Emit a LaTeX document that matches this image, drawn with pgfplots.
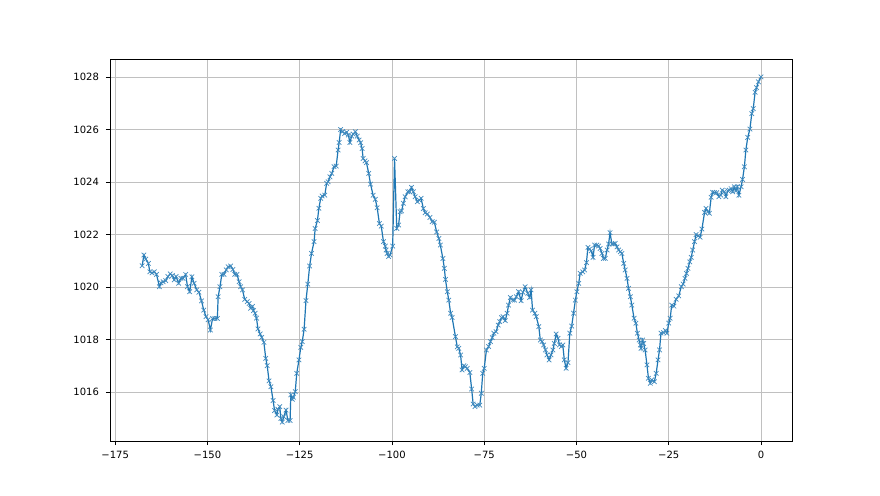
\documentclass[border=0pt]{standalone}
\usepackage{fontspec}
\setmainfont{DejaVu Sans}
\usepackage{pgfplots}
\pgfplotsset{compat=1.18}
\definecolor{mplblue}{HTML}{1F77B4}
\definecolor{mplgrid}{HTML}{B0B0B0}
\begin{document}
\begin{tikzpicture}[x=1pt,y=1pt]
\path[fill=white] (0,0) rectangle (440,247.5);
\begin{axis}[
  at={(55pt,27pt)}, anchor=south west,
  scale only axis, width=341pt, height=191pt,
  xmin=-176.4, xmax=8.4, ymin=1014.13, ymax=1028.69,
  xtick={-175,-150,-125,-100,-75,-50,-25,0},
  xticklabels={−175,−150,−125,−100,−75,−50,−25,0},
  ytick={1016,1018,1020,1022,1024,1026,1028},
  yticklabel style={/pgf/number format/1000 sep={}},
  /pgf/number format/assume math mode=true,
  tick label style={font=\fontsize{5}{6}\selectfont, text=black},
  tick align=outside, major tick length=2pt,
  tick style={black, line width=0.4pt},
  xtick pos=bottom, ytick pos=left,
  grid=major, major grid style={mplgrid!80!white, line width=0.4pt},
  axis line style={black, line width=0.4pt},
  xticklabel style={yshift=0.5pt},
]
\addplot[color=mplblue, line width=0.6pt, mark=x, mark size=1.6pt, mark options={line width=0.35pt, draw=mplblue!85!white}] coordinates {
(-167.7,1020.81) (-167.2,1021.22) (-166.7,1021.06) (-166.0,1020.90) (-165.6,1020.58) (-165.0,1020.54) (-164.4,1020.58) (-163.8,1020.48) (-163.0,1020.01) (-162.6,1020.16)
(-162.0,1020.20) (-161.3,1020.24) (-160.7,1020.40) (-160.1,1020.50) (-159.5,1020.44) (-159.0,1020.27) (-158.5,1020.40) (-157.8,1020.14) (-157.2,1020.33) (-156.6,1020.33)
(-155.9,1020.48) (-155.4,1020.01) (-154.8,1019.82) (-154.2,1020.39) (-153.6,1020.14) (-152.9,1019.89) (-152.3,1019.80) (-151.6,1019.47) (-151.0,1019.12) (-150.4,1018.87)
(-149.8,1018.75) (-149.2,1018.36) (-148.6,1018.80) (-148.0,1018.80) (-147.3,1018.80) (-147.1,1019.63) (-146.6,1020.01) (-146.1,1020.48) (-145.5,1020.48) (-144.9,1020.65)
(-144.4,1020.77) (-143.7,1020.80) (-143.1,1020.67) (-142.6,1020.48) (-142.0,1020.48) (-141.4,1020.20) (-141.0,1020.01) (-140.5,1019.89) (-139.9,1019.53) (-139.2,1019.44)
(-138.7,1019.37) (-138.3,1019.19) (-137.8,1019.26) (-137.5,1019.10) (-137.1,1019.00) (-136.7,1018.81) (-136.3,1018.40) (-135.7,1018.21) (-135.3,1018.08) (-134.7,1017.89)
(-134.2,1017.28) (-133.8,1017.00) (-133.3,1016.42) (-132.8,1016.20) (-132.2,1015.67) (-131.8,1015.29) (-131.2,1015.12) (-130.9,1015.34) (-130.4,1015.44) (-130.1,1014.99)
(-129.7,1014.85) (-129.3,1015.06) (-128.7,1015.31) (-128.2,1014.91) (-127.6,1014.91) (-127.4,1015.89) (-127.0,1015.72) (-126.7,1015.80) (-126.2,1016.01) (-125.8,1016.71)
(-125.2,1017.22) (-124.7,1017.70) (-124.3,1017.92) (-123.8,1018.39) (-123.3,1019.48) (-122.8,1020.11) (-122.3,1020.80) (-121.8,1021.28) (-121.1,1021.73) (-120.8,1022.23)
(-120.2,1022.53) (-119.8,1023.00) (-119.3,1023.38) (-118.9,1023.47) (-118.2,1023.50) (-117.7,1023.95) (-117.3,1024.01) (-116.8,1024.20) (-116.3,1024.33) (-115.7,1024.59)
(-115.1,1024.61) (-114.6,1025.22) (-114.3,1025.51) (-113.9,1026.00) (-113.4,1025.92) (-112.8,1025.85) (-112.3,1025.90) (-111.8,1025.79) (-111.4,1025.51) (-110.9,1025.75)
(-110.5,1025.83) (-109.9,1025.92) (-109.4,1025.75) (-108.9,1025.60) (-108.5,1025.50) (-108.1,1025.28) (-107.8,1024.90) (-107.3,1024.81) (-106.9,1024.74) (-106.3,1024.33)
(-105.8,1023.92) (-105.1,1023.50) (-104.5,1023.34) (-104.0,1023.02) (-103.4,1022.42) (-102.9,1022.32) (-102.3,1021.73) (-101.8,1021.56) (-101.6,1021.41) (-101.3,1021.28)
(-100.9,1021.16) (-100.5,1021.22) (-99.8,1021.56) (-99.3,1024.90) (-98.7,1022.23) (-98.2,1022.36) (-97.8,1022.87) (-97.4,1022.90) (-96.9,1023.19) (-96.4,1023.44)
(-95.7,1023.63) (-95.2,1023.63) (-94.7,1023.80) (-94.2,1023.63) (-93.7,1023.44) (-93.1,1023.25) (-92.6,1023.31) (-92.1,1023.38) (-91.5,1022.99) (-91.0,1022.83)
(-90.4,1022.78) (-89.7,1022.65) (-89.1,1022.49) (-88.5,1022.47) (-87.9,1022.10) (-87.3,1021.85) (-86.9,1021.60) (-86.2,1021.09) (-85.8,1020.71) (-85.5,1020.29)
(-85.0,1019.82) (-84.6,1019.50) (-84.1,1019.00) (-83.7,1018.84) (-82.8,1018.11) (-82.3,1017.72) (-81.9,1017.66) (-81.4,1017.41) (-81.0,1016.84) (-80.5,1017.00)
(-80.1,1016.96) (-79.6,1016.90) (-78.9,1016.74) (-78.4,1016.11) (-78.0,1015.54) (-77.5,1015.44) (-76.9,1015.50) (-76.2,1015.50) (-75.8,1015.95) (-75.4,1016.71)
(-75.0,1016.90) (-74.4,1017.60) (-73.8,1017.73) (-73.3,1017.92) (-72.8,1018.07) (-72.4,1018.24) (-71.8,1018.30) (-71.2,1018.55) (-70.8,1018.68) (-70.3,1018.83)
(-69.9,1018.87) (-69.3,1018.72) (-68.8,1019.00) (-68.4,1019.31) (-67.9,1019.60) (-67.3,1019.50) (-66.8,1019.50) (-66.3,1019.63) (-65.7,1019.82) (-65.0,1019.48)
(-64.5,1019.80) (-63.9,1020.01) (-63.2,1019.76) (-62.7,1019.60) (-62.3,1019.89) (-61.9,1019.12) (-61.3,1019.00) (-60.9,1018.87) (-60.2,1018.49) (-59.8,1017.98)
(-59.3,1017.92) (-58.9,1017.79) (-58.4,1017.60) (-58.0,1017.41) (-57.4,1017.22) (-56.9,1017.41) (-56.4,1017.60) (-56.0,1017.85) (-55.5,1018.21) (-55.0,1018.04)
(-54.6,1017.79) (-54.1,1017.73) (-53.7,1017.79) (-53.3,1017.22) (-52.8,1016.90) (-52.3,1017.12) (-51.8,1018.24) (-51.3,1018.51) (-50.8,1019.00) (-50.3,1019.50)
(-49.9,1019.82) (-49.4,1020.14) (-49.0,1020.52) (-48.3,1020.58) (-47.8,1020.65) (-47.3,1020.93) (-46.9,1021.51) (-46.5,1021.44) (-46.0,1021.38) (-45.5,1021.13)
(-45.1,1021.60) (-44.5,1021.60) (-44.0,1021.56) (-43.6,1021.47) (-43.1,1021.28) (-42.7,1021.09) (-42.2,1021.09) (-41.7,1021.41) (-41.3,1021.64) (-40.9,1022.07)
(-40.4,1021.64) (-40.0,1021.64) (-39.5,1021.66) (-39.0,1021.53) (-38.6,1021.41) (-38.1,1021.34) (-37.7,1021.28) (-37.2,1020.90) (-36.8,1020.65) (-36.3,1020.33)
(-35.9,1019.95) (-35.4,1019.63) (-35.0,1019.31) (-34.4,1018.81) (-33.9,1018.62) (-33.5,1018.24) (-33.0,1017.98) (-32.7,1017.79) (-32.5,1017.66) (-32.1,1017.98)
(-31.8,1017.85) (-31.4,1017.60) (-30.9,1017.03) (-30.5,1016.52) (-30.0,1016.33) (-29.6,1016.46) (-28.9,1016.39) (-28.4,1016.71) (-27.9,1017.22) (-27.5,1017.60)
(-27.1,1018.24) (-26.4,1018.26) (-25.9,1018.34) (-25.5,1018.24) (-25.0,1018.62) (-24.6,1018.81) (-24.2,1019.31) (-23.6,1019.27) (-23.0,1019.53) (-22.3,1019.66)
(-21.6,1020.01) (-21.1,1020.11) (-20.6,1020.33) (-20.2,1020.52) (-19.8,1020.71) (-19.3,1020.96) (-18.9,1021.13) (-18.5,1021.41) (-18.0,1021.73) (-17.6,1022.00)
(-17.0,1021.95) (-16.5,1021.90) (-16.0,1022.21) (-15.3,1022.84) (-14.9,1023.00) (-14.4,1022.87) (-14.0,1022.81) (-13.5,1023.42) (-13.1,1023.61) (-12.6,1023.60)
(-12.0,1023.60) (-11.4,1023.44) (-10.9,1023.50) (-10.5,1023.69) (-9.9,1023.63) (-9.5,1023.44) (-9.0,1023.67) (-8.6,1023.69) (-8.1,1023.75) (-7.7,1023.63)
(-7.2,1023.82) (-6.8,1023.67) (-6.4,1023.82) (-6.0,1023.50) (-5.4,1023.82) (-5.0,1024.10) (-4.5,1024.58) (-4.1,1025.22) (-3.6,1025.70) (-3.0,1026.02)
(-2.5,1026.61) (-2.1,1026.80) (-1.6,1027.42) (-1.2,1027.60) (-0.7,1027.82) (0.0,1028.01)
};
\end{axis}
\end{tikzpicture}
\end{document}
